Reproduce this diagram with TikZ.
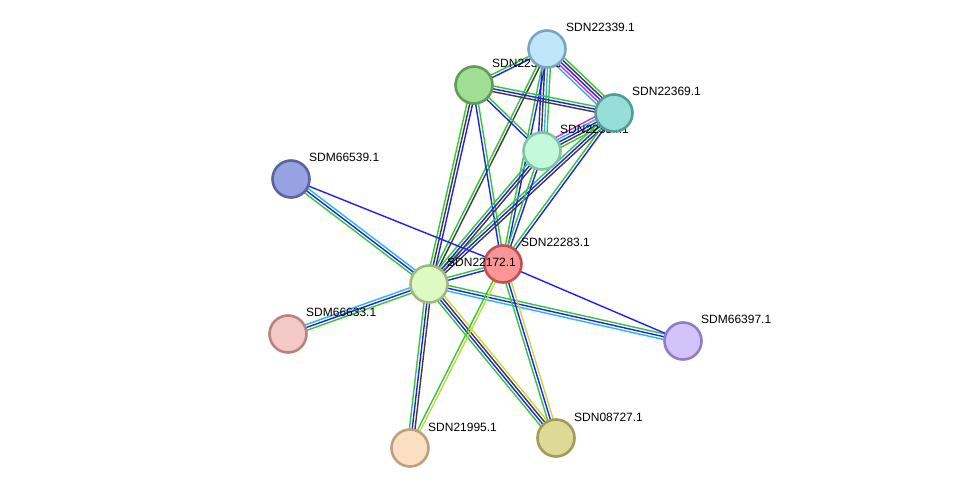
\documentclass[tikz,border=0pt]{standalone}
\usepackage{fontspec}
\setmainfont{Liberation Sans}
\usetikzlibrary{calc}
\pgfdeclarelayer{edges}
\pgfsetlayers{edges,main}
\definecolor{eg}{RGB}{50,200,50}
\definecolor{eb}{RGB}{30,30,250}
\definecolor{ek}{RGB}{60,60,60}
\definecolor{em}{RGB}{220,40,220}
\definecolor{ec}{RGB}{40,185,225}
\definecolor{ey}{RGB}{200,215,60}
\definecolor{fG}{RGB}{160,222,150}\definecolor{dG}{RGB}{95,155,85}
\definecolor{fA}{RGB}{192,230,250}\definecolor{dA}{RGB}{125,165,195}
\definecolor{fM}{RGB}{195,250,220}\definecolor{dM}{RGB}{130,195,160}
\definecolor{fC}{RGB}{150,222,215}\definecolor{dC}{RGB}{85,155,150}
\definecolor{fP}{RGB}{150,162,225}\definecolor{dP}{RGB}{90,100,160}
\definecolor{fR}{RGB}{250,150,150}\definecolor{dR}{RGB}{195,80,80}
\definecolor{fY}{RGB}{222,250,195}\definecolor{dY}{RGB}{160,185,130}
\definecolor{fK}{RGB}{245,200,200}\definecolor{dK}{RGB}{185,130,130}
\definecolor{fV}{RGB}{212,195,250}\definecolor{dV}{RGB}{145,125,195}
\definecolor{fF}{RGB}{252,222,195}\definecolor{dF}{RGB}{190,160,125}
\definecolor{fO}{RGB}{222,218,150}\definecolor{dO}{RGB}{160,155,85}
\tikzset{
  prot/.style={circle, minimum size=37pt, inner sep=0pt, line width=2.6pt, fill=f#1, draw=d#1},
  lab/.style={anchor=base west, inner sep=0pt, font=\fontsize{12}{14}\selectfont, text=black},
  eline/.style={line width=1.4pt}
}
\newcommand\edg[4]{%
  \begin{pgfonlayer}{edges}
  \foreach \c [count=\i] in {#4} {
    \pgfmathsetmacro\off{(\i-(#3+1)/2)*2.8}
    \draw[eline, \c] ($(#1.center)!\off pt!90:(#2.center)$) -- ($(#2.center)!\off pt!-90:(#1.center)$);
  }
  \end{pgfonlayer}}
\begin{document}
\begin{tikzpicture}[x=1pt,y=-1pt]
\useasboundingbox (0,0) rectangle (975,494);
% nodes and labels (drawing order matters)
\node[prot=G] (G) at (474,85) {};
\node[lab] (Gl) at (492,68) {SDN22353.1};
\node[prot=A] (A) at (547,49) {};
\node[lab] (Al) at (566,32) {SDN22339.1};
\node[prot=M] (M) at (542,151) {};
\node[lab] (Ml) at (560,134) {SDN22354.1};
\node[prot=C] (C) at (614,113) {};
\node[lab] (Cl) at (632,96) {SDN22369.1};
\node[prot=P] (P) at (291,179) {};
\node[lab] (Pl) at (309,162) {SDM66539.1};
\node[prot=R] (R) at (503,264) {};
\node[lab] (Rl) at (521,247) {SDN22283.1};
\node[prot=Y] (Y) at (429,284) {};
\node[lab] (Yl) at (447,267) {SDN22172.1};
\node[prot=K] (K) at (288,334) {};
\node[lab] (Kl) at (306,317) {SDM66633.1};
\node[prot=V] (V) at (683,341) {};
\node[lab] (Vl) at (701,324) {SDM66397.1};
\node[prot=F] (F) at (410,448) {};
\node[lab] (Fl) at (428,431) {SDN21995.1};
\node[prot=O] (O) at (556,438) {};
\node[lab] (Ol) at (574,421) {SDN08727.1};
% edges
\edg{A}{C}{5}{ec,em,eb,ek,eg}
\edg{A}{G}{2}{eg,eb}
\edg{A}{M}{4}{eb,ek,ec,eg}
\edg{A}{Y}{2}{eg,ek}
\edg{A}{R}{2}{eg,eb}
\edg{G}{C}{3}{ek,eb,eg}
\edg{G}{M}{2}{eb,eg}
\edg{G}{Y}{3}{eg,ek,eb}
\edg{G}{R}{2}{eb,eg}
\edg{C}{M}{5}{em,ec,eb,ek,eg}
\edg{C}{Y}{3}{eg,eb,ek}
\edg{C}{R}{2}{eg,eb}
\edg{M}{Y}{3}{eg,eb,ek}
\edg{M}{R}{2}{eg,eb}
\edg{P}{Y}{3}{eg,eb,ec}
\edg{P}{R}{1}{eb}
\edg{K}{Y}{3}{eg,eb,ec}
\edg{Y}{R}{2}{eb,eg}
\edg{Y}{V}{3}{ec,eb,eg}
\edg{R}{V}{1}{eb}
\edg{Y}{F}{3}{eg,eb,ek}
\edg{Y}{O}{4}{eg,eb,ek,ey}
\edg{R}{F}{2}{eg,ey}
\edg{R}{O}{3}{eg,eb,ey}
\end{tikzpicture}
\end{document}
